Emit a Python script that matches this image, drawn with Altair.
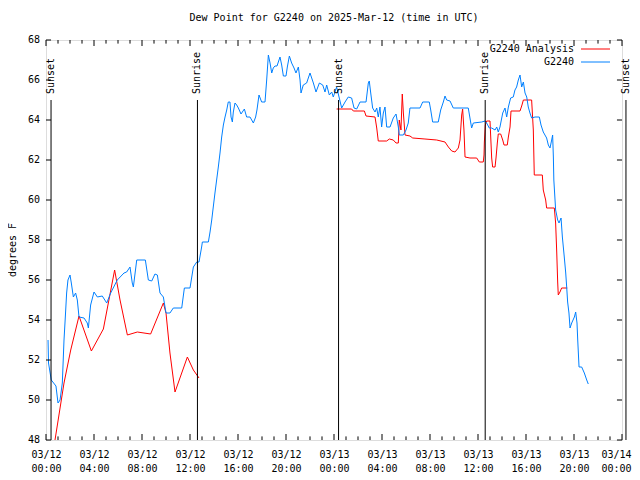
import altair as alt
import pandas as pd

BASE = pd.Timestamp("2025-03-12T00:00:00Z")

# Observations (G2240): hours since 03/12 00:00 UTC, dew point (F)
obs_hours = [0.17, 0.21, 0.44, 0.83, 1.0, 1.17, 1.36, 1.5, 1.61, 1.72, 1.83, 2.0, 2.11, 2.28, 2.47, 2.61,
             2.75, 3.17, 3.44, 3.53, 3.72, 4.0, 4.28, 4.69, 5.06, 5.39, 5.94, 6.5, 6.72, 7.0, 7.19, 7.28,
             7.56, 8.28, 8.53, 8.81, 9.08, 9.28, 9.5, 9.78, 10.0, 10.33, 10.61, 11.31, 11.53, 12.0, 12.28,
             12.56, 12.75, 12.97, 13.03, 13.53, 13.67, 13.81, 13.94, 14.08, 14.22, 14.36, 14.5, 14.64,
             14.78, 14.92, 15.06, 15.19, 15.33, 15.42, 15.53, 15.61, 15.75, 15.89, 16.03, 16.25, 16.53,
             16.72, 17.0, 17.28, 17.47, 17.58, 17.75, 17.97, 18.25, 18.39, 18.53, 18.67, 18.81, 18.94,
             19.08, 19.25, 19.5, 19.64, 19.78, 20.0, 20.11, 20.28, 20.47, 20.67, 20.83, 21.03, 21.17,
             21.25, 21.44, 21.72, 22.0, 22.28, 22.5, 22.78, 23.06, 23.25, 23.39, 23.61, 23.81, 23.94,
             24.22, 24.44, 24.64, 24.92, 25.19, 25.47, 25.67, 25.89, 26.17, 26.67, 26.86, 26.94, 27.06,
             27.22, 27.42, 27.56, 27.69, 27.83, 27.97, 28.11, 28.25, 28.39, 28.67, 28.94, 29.17, 29.36,
             29.44, 29.78, 30.0, 30.19, 30.33, 31.17, 31.39, 31.94, 32.06, 32.22, 32.69, 32.89, 33.11,
             33.25, 33.39, 33.67, 33.94, 35.19, 35.33, 35.47, 35.61, 36.31, 36.58, 36.72, 36.94, 37.14,
             37.42, 37.56, 37.69, 37.83, 38.06, 38.25, 38.39, 38.53, 38.72, 38.94, 39.08, 39.22, 39.36,
             39.5, 39.64, 39.78, 39.92, 40.06, 40.19, 40.33, 40.47, 40.75, 41.11, 41.25, 41.44, 41.72,
             41.86, 42.0, 42.14, 42.22, 42.28, 42.32, 42.42, 42.47, 42.64, 42.75, 42.92, 43.03, 43.19,
             43.31, 43.39, 43.47, 43.58, 43.67, 43.81, 44.03, 44.14, 44.25, 44.31, 44.42, 44.64, 44.86,
             45.06, 45.19]
obs_values = [53.0, 51.85, 51.0, 50.7, 49.85, 50.0, 50.85, 53.0, 54.15, 55.35, 56.0, 56.25, 55.85, 55.15,
              55.35, 55.0, 54.15, 54.1, 53.85, 53.6, 54.75, 55.4, 55.15, 55.2, 54.85, 55.35, 56.0, 56.35,
              56.4, 56.65, 55.85, 55.65, 57.0, 57.0, 56.0, 55.95, 56.3, 56.25, 55.35, 55.15, 54.35, 54.35,
              54.6, 54.6, 55.6, 55.6, 56.65, 56.9, 56.9, 57.65, 57.9, 57.9, 58.4, 59.0, 59.65, 60.35, 61.0,
              61.65, 62.35, 63.15, 63.75, 64.15, 64.5, 64.9, 64.9, 64.15, 63.9, 64.4, 64.85, 64.75, 64.6,
              64.3, 64.55, 64.15, 64.15, 63.85, 64.15, 64.5, 65.25, 64.9, 64.9, 66.0, 67.25, 66.85, 66.35,
              66.6, 66.7, 66.7, 67.15, 66.75, 66.2, 66.2, 66.65, 67.2, 66.85, 66.6, 66.35, 66.65, 66.0,
              65.35, 65.75, 65.85, 66.35, 65.85, 65.4, 65.85, 65.75, 65.4, 65.75, 65.25, 65.4, 65.15,
              65.65, 65.1, 64.6, 64.9, 65.15, 65.1, 64.6, 64.55, 64.9, 64.9, 65.85, 65.95, 65.35, 64.6,
              64.4, 64.6, 64.15, 64.65, 63.65, 64.35, 64.65, 63.65, 63.65, 64.1, 64.3, 63.65, 63.25, 63.25,
              63.5, 63.85, 64.6, 64.6, 64.9, 64.9, 64.5, 63.9, 63.9, 64.5, 64.9, 65.2, 65.0, 64.95, 64.6,
              64.6, 64.1, 63.6, 63.85, 63.9, 63.95, 63.85, 63.6, 63.6, 63.5, 63.65, 63.4, 63.65, 64.35,
              64.6, 64.15, 64.65, 65.1, 65.15, 65.5, 65.65, 66.0, 66.25, 65.65, 65.9, 65.35, 65.15, 64.65,
              64.35, 64.1, 64.15, 64.15, 63.75, 63.4, 63.1, 62.75, 62.6, 63.0, 63.25, 62.15, 61.0, 60.0,
              59.5, 59.0, 58.85, 59.1, 58.15, 57.15, 56.35, 55.65, 54.9, 54.35, 53.6, 53.85, 54.15, 54.4,
              53.85, 53.0, 51.65, 51.65, 51.35, 51.0, 50.8]

# Analysis (G2240 Analysis): two separate segments
ana1_hours = [0.75, 1.5, 2.06, 2.75, 3.78, 4.78, 5.72, 6.17, 6.78, 7.61, 8.72, 9.78, 10.0, 10.33, 10.75,
              11.78, 12.28, 12.75]
ana1_values = [48.0, 50.85, 52.5, 54.2, 52.45, 53.55, 56.5, 55.0, 53.25, 53.4, 53.3, 54.85, 54.35, 52.35,
               50.4, 52.15, 51.5, 51.1]
ana2_hours = [24.22, 25.47, 25.61, 26.53, 26.67, 27.42, 27.56, 27.69, 28.39, 28.61, 28.94, 29.17, 29.36,
              29.44, 29.58, 29.69, 29.78, 29.92, 30.33, 30.56, 31.58, 32.56, 33.25, 33.53, 33.81, 34.08,
              34.36, 34.5, 34.64, 34.72, 34.83, 34.92, 35.33, 35.89, 36.11, 36.44, 36.5, 36.53, 36.61,
              36.72, 37.0, 37.06, 37.14, 37.22, 37.42, 37.5, 37.61, 37.69, 37.89, 38.06, 38.17, 38.44,
              38.53, 38.67, 38.75, 39.5, 39.64, 39.78, 40.47, 40.61, 40.69, 41.36, 41.44, 41.64, 41.72,
              42.36, 42.47, 42.56, 42.64, 42.69, 42.83, 42.97, 43.44]
ana2_values = [64.55, 64.55, 64.45, 64.45, 64.2, 64.15, 63.6, 62.95, 62.95, 63.05, 63.0, 62.85, 62.85,
               64.0, 63.5, 65.3, 64.35, 63.25, 63.2, 63.1, 63.05, 63.0, 62.9, 62.65, 62.45, 62.4, 62.6,
               63.0, 64.25, 64.55, 63.5, 62.15, 62.1, 62.1, 61.9, 61.9, 62.25, 62.9, 63.75, 63.95, 63.95,
               63.15, 62.1, 61.65, 61.65, 62.1, 62.85, 63.3, 63.3, 63.0, 62.75, 62.75, 63.15, 63.65, 64.45,
               64.45, 64.7, 65.0, 65.0, 63.5, 61.25, 61.25, 60.5, 60.0, 59.6, 59.6, 58.85, 57.4, 55.9,
               55.25, 55.4, 55.6, 55.6]

sun_hours = [0.42, 12.62, 24.38, 36.6, 48.33]
sun_labels = ["Sunset", "Sunrise", "Sunset", "Sunrise", "Sunset"]

series_names = ["G2240 Analysis", "G2240"]
series_colors = ["#ff0000", "#0080ff"]

y_tick_values = list(range(48, 69, 2))
x_label_hours = list(range(0, 49, 4))
x_minor_hours = list(range(0, 49, 1))

TITLE = "Dew Point for G2240 on 2025-Mar-12 (time in UTC)"
Y_TITLE = "degrees F"
FONT = "DejaVu Sans Mono"


def iso(h):
    return (BASE + pd.Timedelta(hours=h)).strftime("%Y-%m-%dT%H:%M:%SZ")


def dt(h):
    t = BASE + pd.Timedelta(hours=h)
    return alt.DateTime(year=t.year, month=t.month, date=t.day, hours=t.hour, minutes=t.minute, utc=True)


obs_df = pd.DataFrame({"time": [iso(h) for h in obs_hours], "value": obs_values,
                       "series": "G2240", "seg": "obs"})
ana_df = pd.concat([
    pd.DataFrame({"time": [iso(h) for h in ana1_hours], "value": ana1_values,
                  "series": "G2240 Analysis", "seg": "a1"}),
    pd.DataFrame({"time": [iso(h) for h in ana2_hours], "value": ana2_values,
                  "series": "G2240 Analysis", "seg": "a2"}),
])

xscale = alt.Scale(type="utc", domain=[dt(0), dt(48)], nice=False)
yscale = alt.Scale(domain=[48, 68], nice=False, zero=False)
cscale = alt.Scale(domain=series_names, range=series_colors)

last_ms = int((BASE + pd.Timedelta(hours=46)).value // 10**6)
xaxis = alt.Axis(values=[dt(h) for h in x_label_hours], ticks=False, domain=False, grid=False,
                 labelExpr="[utcFormat(datum.value, '%m/%d'), utcFormat(datum.value, '%H:%M')]",
                 labelPadding=9, labelLineHeight=14, labelFont=FONT, labelFontSize=10,
                 labelColor="black", labelFlush=False, labelOverlap=False, title=None,
                 labelOffset={"condition": {"test": f"datum.value > {last_ms}", "value": -6}, "value": 0})

ana_layer = alt.Chart(ana_df).mark_line(strokeWidth=1, clip=True).encode(
    x=alt.X("time:T", scale=xscale, axis=xaxis, title=None),
    y=alt.Y("value:Q", scale=yscale, axis=None, title=None),
    color=alt.Color("series:N", scale=cscale, legend=None),
    detail="seg:N",
)
obs_layer = alt.Chart(obs_df).mark_line(strokeWidth=1, clip=True).encode(
    x=alt.X("time:T", title=None),
    y=alt.Y("value:Q", axis=None, title=None),
    color=alt.Color("series:N", scale=cscale, legend=None),
    detail="seg:N",
)

# inward tick marks (gnuplot style)
xt_df = pd.DataFrame({"t": [iso(h) for h in x_minor_hours],
                      "major": [h % 4 == 0 for h in x_minor_hours]})
xt_df["b0"] = 48.0
xt_df["b1"] = [48.3 if m else 48.18 for m in xt_df["major"]]
xt_df["t0"] = 68.0
xt_df["t1"] = [67.7 if m else 67.82 for m in xt_df["major"]]
xt_bottom = alt.Chart(xt_df).mark_rule(color="black", strokeWidth=1).encode(
    x=alt.X("t:T", title=None), y=alt.Y("b0:Q", axis=None, title=None), y2="b1:Q")
xt_top = alt.Chart(xt_df).mark_rule(color="black", strokeWidth=1).encode(
    x=alt.X("t:T", title=None), y=alt.Y("t0:Q", axis=None, title=None), y2="t1:Q")

yt_df = pd.DataFrame({"v": y_tick_values})
yt_df["l0"] = iso(0)
yt_df["l1"] = iso(0.42)
yt_df["r0"] = iso(48)
yt_df["r1"] = iso(47.58)
yt_left = alt.Chart(yt_df).mark_rule(color="black", strokeWidth=1).encode(
    y=alt.Y("v:Q", axis=None, title=None), x=alt.X("l0:T", title=None), x2="l1:T")
yt_right = alt.Chart(yt_df).mark_rule(color="black", strokeWidth=1).encode(
    y=alt.Y("v:Q", axis=None, title=None), x=alt.X("r0:T", title=None), x2="r1:T")
yt_labels = alt.Chart(yt_df).mark_text(align="right", baseline="middle", font=FONT, fontSize=10,
                                       color="black").encode(
    y=alt.Y("v:Q", axis=None, title=None), x=alt.value(-6), text=alt.Text("v:Q", format="d"))

# sunrise / sunset markers
sun_df = pd.DataFrame({"t": [iso(h) for h in sun_hours], "label": sun_labels})
sun_df["y0"] = 48.0
sun_df["y1"] = 65.0
sun_df["ty"] = 65.3
sun_rules = alt.Chart(sun_df).mark_rule(color="black", strokeWidth=1).encode(
    x=alt.X("t:T", title=None), y=alt.Y("y0:Q", axis=None, title=None), y2="y1:Q")
sun_text = alt.Chart(sun_df).mark_text(angle=270, align="left", baseline="middle", font=FONT,
                                       fontSize=10, color="black").encode(
    x=alt.X("t:T", title=None), y=alt.Y("ty:Q", axis=None, title=None), text="label:N")

# gnuplot-style key in the top-right corner
leg_df = pd.DataFrame({"label": series_names, "color": series_colors})
leg_layers = []
for i, row in leg_df.iterrows():
    one = leg_df.iloc[[i]]
    yy = 9 + 13 * i
    leg_layers.append(alt.Chart(one).mark_text(align="right", baseline="middle", font=FONT,
                                               fontSize=10, color="black").encode(
        x=alt.value(528), y=alt.value(yy), text="label:N"))
    leg_layers.append(alt.Chart(one).mark_rule(color=row["color"], strokeWidth=1).encode(
        x=alt.value(535), x2=alt.value(564), y=alt.value(yy)))

# chart title and y-axis title as text
txt_df = pd.DataFrame({"title": [TITLE], "ytitle": [Y_TITLE]})
title_layer = alt.Chart(txt_df).mark_text(align="center", baseline="bottom", font=FONT, fontSize=10,
                                          color="black").encode(
    x=alt.value(288), y=alt.value(-17), text="title:N")
ytitle_layer = alt.Chart(txt_df).mark_text(align="center", baseline="middle", angle=270, font=FONT,
                                           fontSize=10, color="black").encode(
    x=alt.value(-33), y=alt.value(210), text="ytitle:N")

chart = alt.layer(
    ana_layer, obs_layer, xt_bottom, xt_top, yt_left, yt_right, yt_labels, sun_rules, sun_text,
    *leg_layers, title_layer, ytitle_layer
).properties(
    width=576, height=400,
    autosize=alt.AutoSizeParams(type="none"),
    padding={"left": 38, "top": 32, "right": 10, "bottom": 40},
).configure_view(stroke="black", strokeWidth=1).configure(background="white")

chart.save("out.html", embed_options={"renderer": "svg", "actions": False})
